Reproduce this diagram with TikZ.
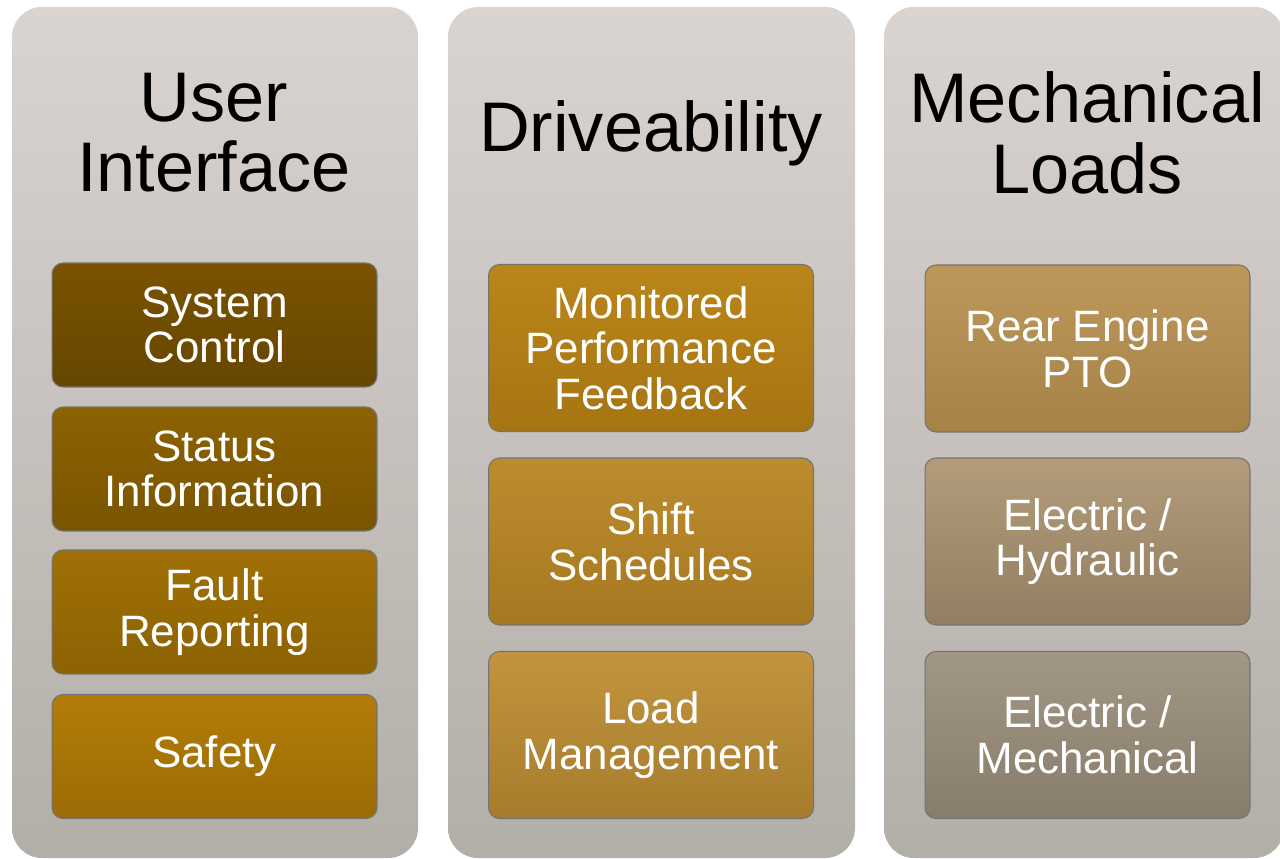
\documentclass[tikz,border=0pt]{standalone}
\usepackage{fontspec}
\setmainfont{Liberation Sans}
\usepackage{tikz}
\usepackage{xcolor}

\definecolor{panelTop}{HTML}{DAD4D0}
\definecolor{panelBot}{HTML}{B2AEA8}

\begin{document}
\begin{tikzpicture}[x=0.02cm,y=-0.02cm,
    panel/.style={top color=panelTop,bottom color=panelBot,rounded corners=0.6cm,draw=none},
    heading/.style={align=center,font=\fontsize{40}{40}\selectfont,text=black},
    item/.style={rounded corners=0.22cm,draw=black!55,line width=0.6pt,text=white,align=center,
        minimum width=6.5cm,inner sep=0pt,font=\fontsize{25}{26}\selectfont},
    shortitem/.style={item,minimum height=2.48cm},
    tallitem/.style={item,minimum height=3.34cm}]
            \useasboundingbox (0,0) rectangle (1280,858);
            % background panels
            \path[panel] (12,7) rectangle (418,858);
            \path[panel] (448,7) rectangle (855,858);
            \path[panel] (884,7) rectangle (1284,858);
            % headings
            \node[heading] (ui) at (214,133) {User\\Interface};
            \node[heading] (drv) at (651,133) {Driveability};
            \node[heading] (mech) at (1087,133) {Mechanical\\Loads};
            % user interface column
            \node[shortitem,top color={rgb,255:red,122;green,83;blue,0},bottom color={rgb,255:red,102;green,70;blue,0}] (sc) at (214.5,325) {System\\Control};
            \node[shortitem,top color={rgb,255:red,140;green,98;blue,2},bottom color={rgb,255:red,122;green,85;blue,0}] (si) at (214.5,469) {Status\\Information};
            \node[shortitem,top color={rgb,255:red,160;green,112;blue,5},bottom color={rgb,255:red,140;green,98;blue,3}] (fr) at (214.5,612) {Fault\\Reporting};
            \node[shortitem,top color={rgb,255:red,178;green,124;blue,8},bottom color={rgb,255:red,156;green,108;blue,5}] (sf) at (214.5,756.5) {Safety};
            % driveability column
            \node[tallitem,top color={rgb,255:red,186;green,134;blue,26},bottom color={rgb,255:red,166;green,116;blue,18}] (mp) at (651,348) {Monitored\\Performance\\Feedback};
            \node[tallitem,top color={rgb,255:red,188;green,140;blue,46},bottom color={rgb,255:red,166;green,120;blue,32}] (ss) at (651,541.5) {Shift\\Schedules};
            \node[tallitem,top color={rgb,255:red,194;green,148;blue,62},bottom color={rgb,255:red,166;green,124;blue,44}] (lm) at (651,735) {Load\\Management};
            % mechanical loads column
            \node[tallitem,top color={rgb,255:red,190;green,152;blue,90},bottom color={rgb,255:red,166;green,130;blue,72}] (pto) at (1087.5,348.5) {Rear Engine\\PTO};
            \node[tallitem,top color={rgb,255:red,178;green,156;blue,122},bottom color={rgb,255:red,146;green,126;blue,98}] (eh) at (1087.5,541.5) {Electric /\\Hydraulic};
            \node[tallitem,top color={rgb,255:red,162;green,150;blue,132},bottom color={rgb,255:red,136;green,124;blue,108}] (em) at (1087.5,735) {Electric /\\Mechanical};
        \end{tikzpicture}
\end{document}
